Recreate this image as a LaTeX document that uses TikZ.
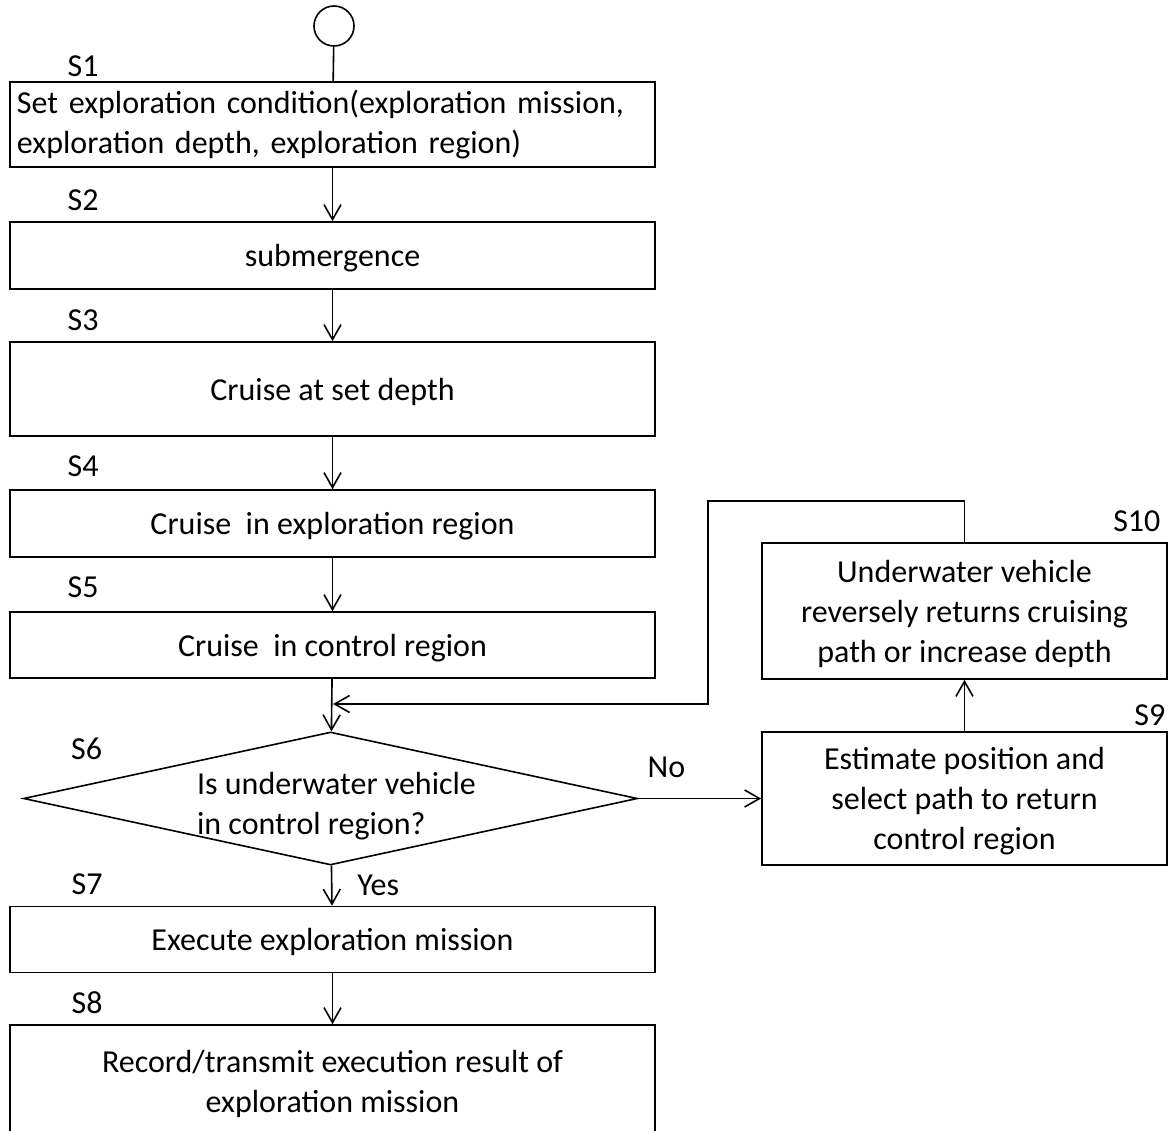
\documentclass[tikz,border=0pt]{standalone}
\usepackage{fontspec}
\setmainfont{Carlito}
\usepackage{tikz}
\usetikzlibrary{shapes.geometric, arrows.meta, positioning}
\tikzset{
    box/.style={rectangle, minimum width=322.5pt, text centered, draw, thick, align=center, inner sep=0pt},
    lowbox/.style={box, text depth=0pt},
    decision/.style={diamond, minimum width=307pt, minimum height=66.5pt, aspect=4.6, draw, thick, inner sep=0pt},
    sidebox/.style={rectangle, minimum width=202.5pt, minimum height=66.5pt, text centered, draw, thick, align=center, inner sep=0pt, text depth=0pt},
    start/.style={circle, draw, thick, minimum size=20pt, inner sep=0pt},
    tag/.style={inner sep=0pt, font=\fontsize{16}{20}\selectfont},
    flow/.style={-{Straight Barb[length=7.5pt, width=8.5pt]}, thick}
}

\begin{document}
\begin{tikzpicture}[x=0.5pt, y=-0.5pt, font=\fontsize{16}{20}\selectfont]
    \useasboundingbox (0,0) rectangle (1175,1131);

    % Start
    \node[start] (start) at (334,26) {};

    % Main steps
    \node[box, minimum height=42.5pt, align=left, text width=315.5pt] (s1) at (332.5,124.5) {Set exploration condition(exploration mission,\\exploration depth, exploration region)};
    \node[lowbox, minimum height=33.5pt] (s2) at (332.5,255.5) {submergence};
    \node[lowbox, minimum height=47pt] (s3) at (332.5,389) {Cruise at set depth};
    \node[lowbox, minimum height=33.5pt] (s4) at (332.5,523.5) {Cruise~ in exploration region};
    \node[lowbox, minimum height=33pt] (s5) at (332.5,645) {Cruise~ in control region};
    \node[decision] (s6) at (330.5,798.5) {};
    \node[align=left, inner sep=0pt, text depth=0pt] (s6text) at ([xshift=3pt, yshift=-2.5pt]s6.center) {Is underwater vehicle\\in control region?};
    \node[lowbox, minimum height=33pt] (s7) at (332.5,939.5) {Execute exploration mission};
    \node[lowbox, minimum height=56pt] (s8) at (332.5,1081) {Record/transmit execution result of\\exploration mission};

    % Side steps
    \node[sidebox] (s9) at (964.5,798.5) {Estimate position and\\select path to return\\control region};
    \node[sidebox, minimum height=68pt] (s10) at (964.5,611) {Underwater vehicle\\reversely returns cruising\\path or increase depth};

    % Step tags
    \node[tag, above right=2pt and 29pt of s1.north west] (t1) {S1};
    \node[tag, above right=5pt and 29pt of s2.north west] (t2) {S2};
    \node[tag, above right=5pt and 29pt of s3.north west] (t3) {S3};
    \node[tag, above right=6pt and 29pt of s4.north west] (t4) {S4};
    \node[tag, above right=6.5pt and 29pt of s5.north west] (t5) {S5};
    \node[tag, above right=19pt and 24pt of s6.west] (t6) {S6};
    \node[tag, above right=5.5pt and 31pt of s7.north west] (t7) {S7};
    \node[tag, above right=5pt and 31pt of s8.north west] (t8) {S8};
    \node[tag, above left=2.5pt and 1pt of s9.north east] (t9) {S9};
    \node[tag, above left=5pt and 3.5pt of s10.north east] (t10) {S10};
    \node[tag, above right=10pt and 4.5pt of s6.east] (no) {No};
    \node[tag, anchor=base west] (yes) at (357,895) {Yes};

    % Connections
    \draw[thick] (start) -- (s1);
    \draw[flow] (s1) -- (s2);
    \draw[flow] (s2) -- (s3);
    \draw[flow] (s3) -- (s4);
    \draw[flow] (s4) -- (s5);
    \draw[flow] (s5) -- (s6);
    \draw[flow] (s6) -- (s7);
    \draw[flow] (s7) -- (s8);
    \draw[flow] (s6) -- (s9);
    \draw[flow] (s9) -- (s10);
    \coordinate (back) at (333,704);
    \draw[flow] (s10.north) |- (708,501) |- (back);
\end{tikzpicture}
\end{document}
